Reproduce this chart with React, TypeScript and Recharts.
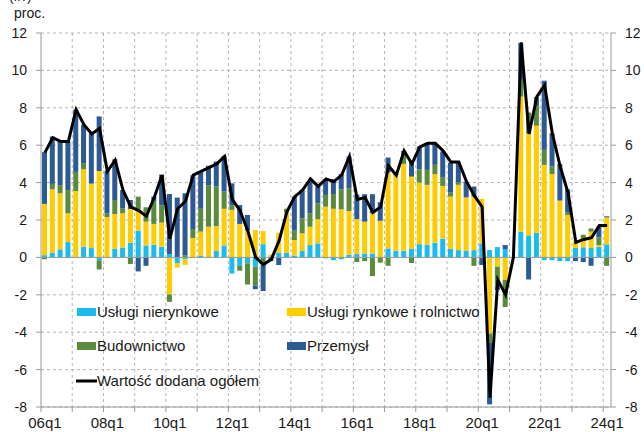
import React from "react";
import {
  ComposedChart,
  Bar,
  Line,
  XAxis,
  YAxis,
  CartesianGrid,
  ReferenceLine,
  Legend,
} from "recharts";

const quarters = [
  "06q1","06q2","06q3","06q4","07q1","07q2","07q3","07q4",
  "08q1","08q2","08q3","08q4","09q1","09q2","09q3","09q4",
  "10q1","10q2","10q3","10q4","11q1","11q2","11q3","11q4",
  "12q1","12q2","12q3","12q4","13q1","13q2","13q3","13q4",
  "14q1","14q2","14q3","14q4","15q1","15q2","15q3","15q4",
  "16q1","16q2","16q3","16q4","17q1","17q2","17q3","17q4",
  "18q1","18q2","18q3","18q4","19q1","19q2","19q3","19q4",
  "20q1","20q2","20q3","20q4","21q1","21q2","21q3","21q4",
  "22q1","22q2","22q3","22q4","23q1","23q2","23q3","23q4",
  "24q1",
];

// Usługi nierynkowe
const nierynkowe = [
  0.12, 0.25, 0.43, 0.82, 0.03, 0.57, 0.5, -0.15,
  0.0, 0.46, 0.53, 0.79, 1.43, 0.64, 0.68, 0.57,
  0.18, -0.3, -0.1, 0.0, 0.1, 0.02, 0.34, 0.64,
  -0.86, -0.45, -0.32, -0.5, 0.71, 0.05, 0.25, 0.25,
  0.1, 0.34, 0.66, 0.75, -0.05, -0.15, -0.1, 0.14,
  0.18, 0.21, 0.21, 0.02, 0.48, 0.36, 0.36, 0.46,
  0.71, 0.68, 0.79, 1.0, 0.46, 0.39, 0.36, 0.39,
  0.75, 0.39, 0.55, 0.45, 0.0, 1.38, 1.18, 1.32,
  -0.15, -0.15, -0.2, -0.2, 0.5, 0.54, 0.5, 0.57,
  0.7,
];

// Usługi rynkowe i rolnictwo
const rynkowe = [
  2.74, 3.39, 3.0, 1.54, 3.52, 4.14, 3.43, 4.62,
  2.16, 1.86, 1.83, 1.8, 1.14, 1.27, 1.11, 1.29,
  -1.98, -0.25, -0.3, 1.04, 1.28, 1.62, 1.34, 1.96,
  2.54, 1.79, 1.46, 1.46, 0.7, 0.1, 1.07, 2.15,
  0.83, 0.95, 0.98, 1.29, 2.71, 2.6, 2.57, 2.34,
  1.87, 1.7, 2.15, 1.94, 4.06, 4.05, 4.64, 3.86,
  3.29, 3.2, 3.66, 2.82, 2.79, 3.49, 2.85, 2.86,
  2.38, -4.07, -0.5, -1.2, 0.0, 7.22, 5.46, 5.72,
  4.95, 4.46, 3.04, 2.27, 0.4, 0.42, 0.88, 0.09,
  1.44,
];

// Budownictwo
const budownictwo = [
  -0.1, 0.29, 0.43, 1.24, 1.02, 0.33, 0.03, -0.5,
  0.2, 0.75, 0.27, -0.35, 0.68, 0.77, 1.21, 0.93,
  -0.4, 0.0, 0.1, 0.48, 1.22, 2.22, 2.11, 0.92,
  0.25, -0.26, -1.13, -1.0, -0.3, 0.0, 0.0, 0.2,
  0.5, 0.8, 0.72, 0.85, 0.63, 0.79, 1.07, 1.22,
  -0.25, -0.2, -1.0, -0.28, -0.45, 0.05, 0.48, -0.3,
  0.71, 0.8, 0.5, 0.47, 0.21, 0.12, 0.0, -0.45,
  0.0, -0.5, -1.05, -1.45, 0.0, 0.9, 1.11, 1.06,
  0.8, 0.4, 0.0, 0.12, 0.0, 0.25, 0.17, 0.41,
  -0.45,
];

// Przemysł
const przemysl = [
  2.77, 2.53, 2.34, 2.6, 3.33, 2.05, 2.68, 2.92,
  2.27, 2.18, 0.97, 0.48, -0.75, -0.45, 0.25, 1.64,
  3.21, 3.2, 3.33, 2.87, 1.99, 1.04, 1.34, 1.91,
  1.17, 1.01, 0.81, -0.2, -1.5, -0.2, -0.41, 0.0,
  1.82, 1.51, 1.69, 0.9, 0.8, 0.79, 0.82, 1.69,
  1.31, 1.47, 1.02, 0.99, 0.8, 0.0, 0.22, 0.81,
  1.22, 1.39, 1.12, 1.37, 1.61, 1.07, 0.84, 0.54,
  -0.41, -3.29, -0.2, 0.21, 0.0, 1.96, -1.18, 0.47,
  3.7, 1.78, 1.96, 1.25, -0.2, -0.25, -0.45, 0.57,
  0.06,
];

// Wartość dodana ogółem
const ogolem = [
  5.6, 6.4, 6.2, 6.2, 7.9, 7.1, 6.6, 6.9,
  4.6, 5.2, 3.6, 2.7, 2.5, 2.2, 3.2, 4.4,
  1.0, 2.6, 3.0, 4.4, 4.6, 4.8, 5.0, 5.4,
  3.1, 2.5, 1.4, 0.0, -0.38, -0.1, 0.9, 2.45,
  3.25, 3.6, 4.2, 3.8, 4.2, 4.05, 4.4, 5.4,
  3.1, 3.2, 2.4, 2.7, 4.9, 4.4, 5.7, 5.0,
  5.9, 6.1, 6.1, 5.7, 5.1, 5.1, 4.05, 3.3,
  2.7, -7.5, -1.2, -2.0, 0.0, 11.5, 6.6, 8.6,
  9.2, 6.6, 4.85, 3.45, 0.8, 0.96, 1.05, 1.7,
  1.7,
];

const xTickLabels = ["06q1","08q1","10q1","12q1","14q1","16q1","18q1","20q1","22q1","24q1"];
const yTicks = [-8, -6, -4, -2, 0, 2, 4, 6, 8, 10, 12];

const seriesNames = [
  "Usługi nierynkowe",
  "Usługi rynkowe i rolnictwo",
  "Budownictwo",
  "Przemysł",
  "Wartość dodana ogółem",
];

const COLORS = {
  nier: "#1cbbee",
  ryn: "#ffcc00",
  bud: "#5a8a3c",
  prz: "#2e5a94",
  tot: "#000000",
};

const data = quarters.map((q, i) => ({
  q,
  nier: nierynkowe[i],
  ryn: rynkowe[i],
  bud: budownictwo[i],
  prz: przemysl[i],
  tot: ogolem[i],
}));

const W = 644;
const H = 432;
const LEFT_AXIS_W = 41;
const RIGHT_AXIS_W = 33;
const TOP = 33;
const X_AXIS_H = 25;
const PLOT_W = W - LEFT_AXIS_W - RIGHT_AXIS_W;
const BAND = PLOT_W / quarters.length;
const FONT = "'Liberation Sans', Arial, sans-serif";
const AXIS_COLOR = "#9a9a9a";
const GRID_COLOR = "#b4b4b4";

const verticalPoints: number[] = [];
for (let k = 4; k < quarters.length; k += 4) {
  verticalPoints.push(LEFT_AXIS_W + k * BAND);
}

const XTick = (props: any) => {
  const { x, y, payload, index } = props;
  const label = payload && payload.value;
  const left = x - BAND / 2;
  return (
    <g>
      {index % 4 === 0 ? (
        <line x1={left} x2={left} y1={y} y2={y + 5} stroke={AXIS_COLOR} strokeWidth={1} />
      ) : null}
      {xTickLabels.includes(label) ? (
        <text x={x} y={y + 21} textAnchor="middle" fontSize={15} fontFamily={FONT} fill="#1a1a1a">
          {label}
        </text>
      ) : null}
    </g>
  );
};

const Overlay = () => {
  const rowY = [312, 346, 381];
  return (
    <div style={{ position: "absolute", left: 0, top: 0, width: 0, height: 0 }}>
      <svg
        width={W}
        height={H}
        style={{ position: "absolute", left: 0, top: 0, overflow: "visible", pointerEvents: "none" }}
      >
        <text x={9} y={1} fontSize={14} fontFamily={FONT} fill="#1a1a1a">(r/r)</text>
        <text x={14} y={18} fontSize={14} fontFamily={FONT} fill="#1a1a1a">proc.</text>

        <rect x={77} y={rowY[0] - 4} width={19} height={8} fill={COLORS.nier} />
        <text x={97} y={rowY[0] + 5} fontSize={15} fontFamily={FONT} fill="#1a1a1a">{seriesNames[0]}</text>

        <rect x={287} y={rowY[0] - 4} width={19} height={8} fill={COLORS.ryn} />
        <text x={307} y={rowY[0] + 5} fontSize={15} fontFamily={FONT} fill="#1a1a1a">{seriesNames[1]}</text>

        <rect x={77} y={rowY[1] - 4} width={19} height={8} fill={COLORS.bud} />
        <text x={97} y={rowY[1] + 5} fontSize={15} fontFamily={FONT} fill="#1a1a1a">{seriesNames[2]}</text>

        <rect x={287} y={rowY[1] - 4} width={19} height={8} fill={COLORS.prz} />
        <text x={307} y={rowY[1] + 5} fontSize={15} fontFamily={FONT} fill="#1a1a1a">{seriesNames[3]}</text>

        <line x1={76} x2={97} y1={rowY[2]} y2={rowY[2]} stroke={COLORS.tot} strokeWidth={3} />
        <text x={97} y={rowY[2] + 5} fontSize={15} fontFamily={FONT} fill="#1a1a1a">{seriesNames[4]}</text>
      </svg>
    </div>
  );
};

export default function App() {
  return (
    <div style={{ position: "absolute", left: 0, top: 0, width: W, height: H, background: "#fff" }}>
      <ComposedChart
        width={W}
        height={H}
        data={data}
        stackOffset="sign"
        margin={{ top: TOP, right: 0, bottom: 0, left: 0 }}
      >
        <CartesianGrid
          stroke={GRID_COLOR}
          strokeDasharray="3 3"
          verticalPoints={verticalPoints}
          yAxisId="l"
        />
        <XAxis
          dataKey="q"
          interval={0}
          height={X_AXIS_H}
          tickLine={false}
          tickSize={0}
          tickMargin={0}
          axisLine={{ stroke: AXIS_COLOR }}
          tick={<XTick />}
        />
        <YAxis
          yAxisId="l"
          orientation="left"
          width={LEFT_AXIS_W}
          domain={[-8, 12]}
          ticks={yTicks}
          interval={0}
          allowDataOverflow
          axisLine={{ stroke: AXIS_COLOR }}
          tickLine={{ stroke: AXIS_COLOR }}
          tickSize={5}
          tickMargin={9}
          tick={{ fontSize: 14, fontFamily: FONT, fill: "#1a1a1a" }}
        />
        <YAxis
          yAxisId="r"
          orientation="right"
          width={RIGHT_AXIS_W}
          domain={[-8, 12]}
          ticks={yTicks}
          interval={0}
          allowDataOverflow
          axisLine={{ stroke: AXIS_COLOR }}
          tickLine={{ stroke: AXIS_COLOR }}
          tickSize={5}
          tickMargin={9}
          tick={{ fontSize: 14, fontFamily: FONT, fill: "#1a1a1a", textAnchor: "start" }}
        />
        <ReferenceLine yAxisId="l" y={0} stroke={AXIS_COLOR} strokeWidth={1} />
        <Bar yAxisId="l" dataKey="nier" name={seriesNames[0]} stackId="s" fill={COLORS.nier} barSize={5} isAnimationActive={false} />
        <Bar yAxisId="l" dataKey="ryn" name={seriesNames[1]} stackId="s" fill={COLORS.ryn} barSize={5} isAnimationActive={false} />
        <Bar yAxisId="l" dataKey="bud" name={seriesNames[2]} stackId="s" fill={COLORS.bud} barSize={5} isAnimationActive={false} />
        <Bar yAxisId="l" dataKey="prz" name={seriesNames[3]} stackId="s" fill={COLORS.prz} barSize={5} isAnimationActive={false} />
        <Line
          yAxisId="l"
          dataKey="tot"
          name={seriesNames[4]}
          type="linear"
          stroke={COLORS.tot}
          strokeWidth={3}
          dot={false}
          activeDot={false}
          isAnimationActive={false}
        />
        <Legend
          content={() => <Overlay />}
          wrapperStyle={{ left: 0, top: 0, width: 0, height: 0 }}
        />
      </ComposedChart>
    </div>
  );
}
